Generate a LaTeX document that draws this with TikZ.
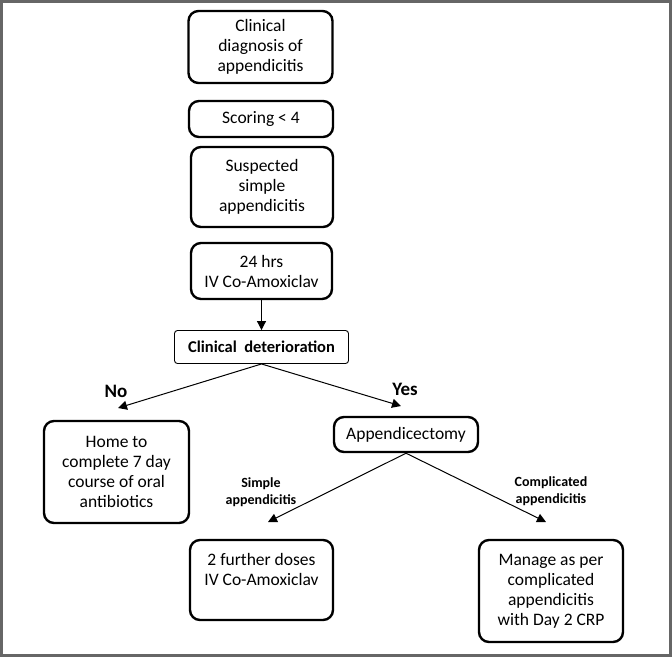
\documentclass[tikz,border=0pt]{standalone}
\usepackage{fontspec}
\setmainfont{Carlito}
\usetikzlibrary{arrows.meta}

\begin{document}
\begin{tikzpicture}[x=1pt,y=-1pt,
  box/.style={draw,line width=2.4pt,rounded corners=10pt,align=center,inner sep=2pt,
    font=\fontsize{17.5}{20}\selectfont},
  thinbox/.style={draw,line width=0.9pt,rounded corners=3pt,align=center,
    font=\bfseries\fontsize{16.5}{20}\selectfont},
  lbl/.style={align=center,font=\bfseries\fontsize{14}{17}\selectfont},
  arr/.style={line width=1pt,-{Triangle[length=9pt,width=9pt]}}]
\useasboundingbox (0,0) rectangle (672,657);
\draw[line width=2.6pt,black!60] (1.3,1.3) rectangle (670.7,655.7);

\node[box,minimum width=144pt,minimum height=72pt] (diag) at (260.5,47) {Clinical\\diagnosis of\\appendicitis};
\node[box,minimum width=144pt,minimum height=36pt] (score) at (261,119) {Scoring < 4};
\node[box,minimum width=142pt,minimum height=80pt] (susp) at (262,187) {Suspected\\simple\\appendicitis};
\node[box,minimum width=141pt,minimum height=56pt] (hrs) at (261.5,271) {24 hrs\\IV Co-Amoxiclav};
\node[thinbox,minimum width=174pt,minimum height=33pt] (det) at (261.5,347) {Clinical\space\space deterioration};
\node[box,minimum width=145pt,minimum height=102pt] (home) at (116.5,472) {Home to\\complete 7 day\\course of oral\\antibiotics};
\node[box,minimum width=144pt,minimum height=35pt] (appx) at (406,434.5) {Appendicectomy};
\node[box,minimum width=143pt,minimum height=80pt] (doses) at (261.5,580) {2 further doses\\IV Co-Amoxiclav\\[2pt]~};
\node[box,minimum width=144pt,minimum height=102pt] (manage) at (551,591) {Manage as per\\complicated\\appendicitis\\with Day 2 CRP};

% arrow ends
\coordinate (tipNo) at (118,408);
\coordinate (tipYes) at (401,406);
\coordinate (tipSimple) at (268,522);
\coordinate (tipComp) at (546,522);

\draw[arr] (hrs) -- (det);
\draw[arr] (det.south) -- (tipNo);
\draw[arr] (det.south) -- (tipYes);
\draw[arr] (appx.south) -- (tipSimple);
\draw[arr] (appx.south) -- (tipComp);

\node[lbl,font=\bfseries\fontsize{19}{20}\selectfont] (no) at (116,391) {No};
\node[lbl,font=\bfseries\fontsize{19}{20}\selectfont] (yes) at (405,389) {Yes};
\node[lbl] (simple) at (261,492) {Simple\\appendicitis};
\node[lbl] (compl) at (551,491) {Complicated\\appendicitis};
\end{tikzpicture}
\end{document}
